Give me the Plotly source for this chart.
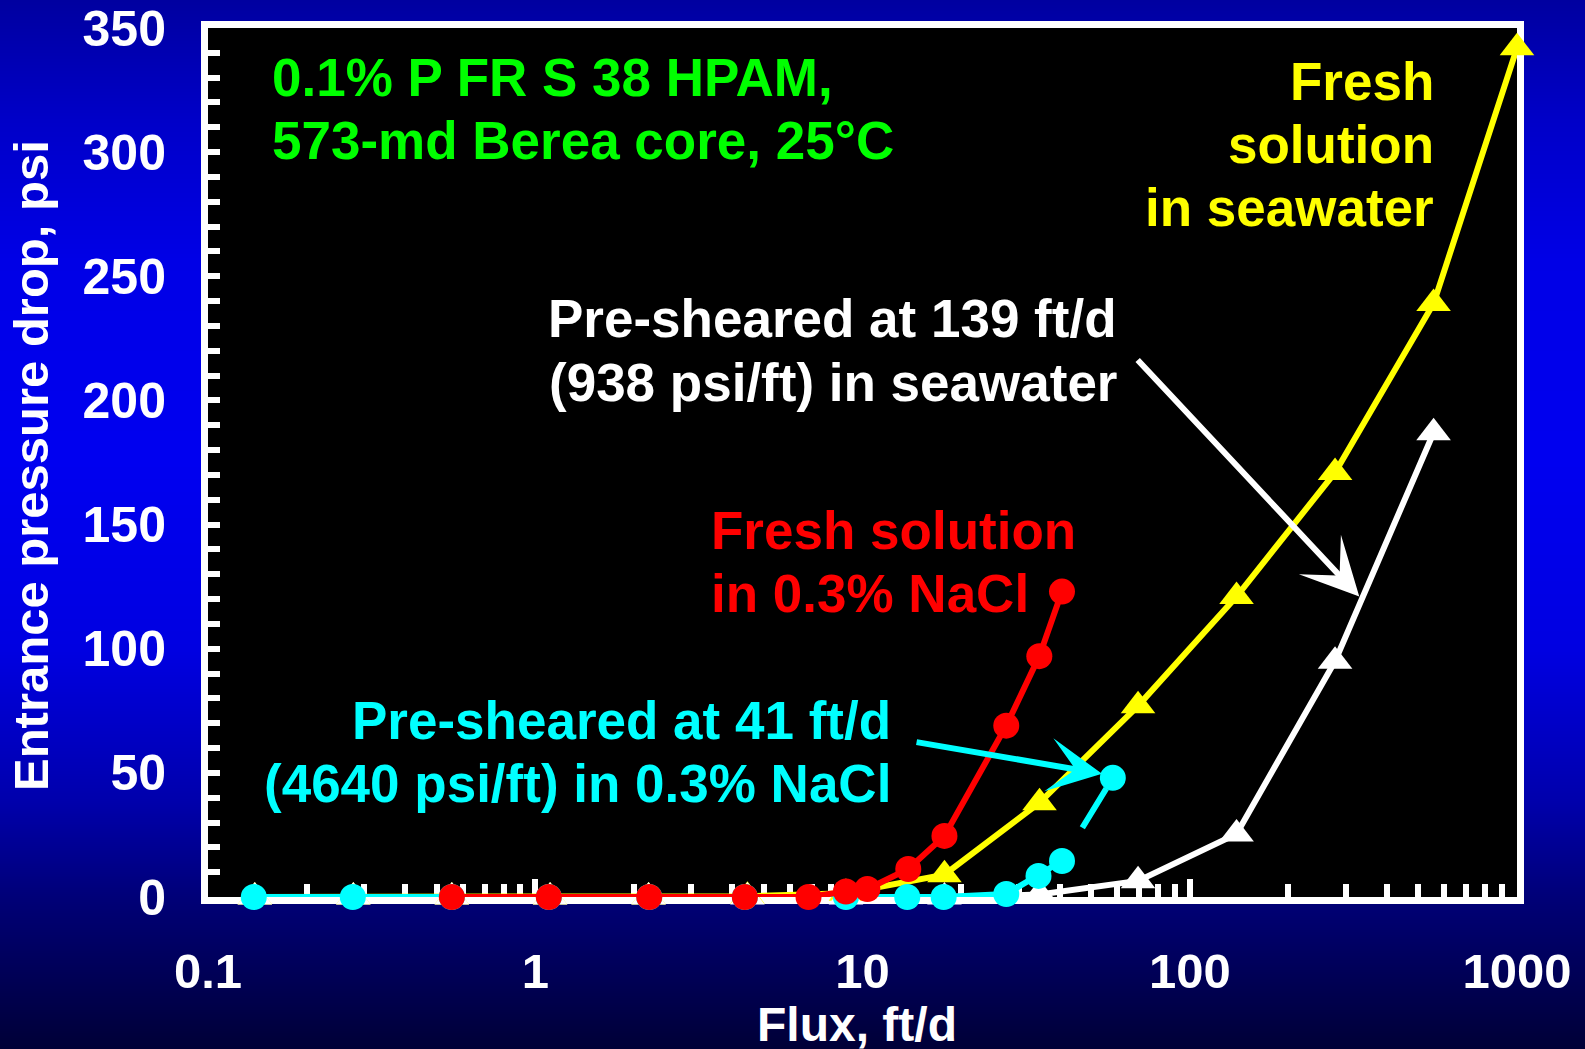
import base64
import struct
import zlib

import plotly.graph_objects as go

# ---------------------------------------------------------------- data
# Fresh solution in seawater (triangles, yellow)
fresh_sea_flux = [0.139, 0.278, 0.556, 1.11, 2.22, 4.45, 8.9, 17.8, 34.75, 69.5, 139, 278, 556, 1000]
fresh_sea_dp = [0, 0, 0, 0, 0, 0.3, 1.5, 9, 38, 77, 121, 171, 239, 342]

# Pre-sheared at 139 ft/d in seawater (triangles, white)
sheared_sea_flux = [0.139, 0.278, 0.556, 1.11, 2.22, 4.45, 8.9, 17.8, 34.75, 69.5, 139, 278, 556]
sheared_sea_dp = [0, 0, 0, 0, 0, 0, 0, 0, 1.0, 6.5, 25.4, 95, 187]

# Fresh solution in 0.3% NaCl (circles, red)
fresh_nacl_flux = [0.556, 1.1, 2.23, 4.37, 6.84, 8.9, 10.35, 13.8, 17.8, 27.5, 34.7, 40.7]
fresh_nacl_dp = [0, 0, 0, 0, 0, 2.2, 3.2, 11.3, 24.6, 69, 97, 123]

# Pre-sheared at 41 ft/d in 0.3% NaCl (circles, cyan)
sheared_nacl_flux = [0.138, 0.277, 0.556, 1.1, 2.23, 4.37, 8.9, 13.7, 17.7, 27.5, 34.5, 40.7, 58.2]
sheared_nacl_dp = [0, 0, 0, 0, 0, 0, 0, 0, 0, 1.2, 8.5, 14.5, 48]

x_tick_vals = [0.1, 1, 10, 100, 1000]
x_tick_text = ["0.1", "1", "10", "100", "1000"]
y_tick_vals = [0, 50, 100, 150, 200, 250, 300, 350]

# ---------------------------------------------------------------- geometry
FIG_W, FIG_H = 1585, 1049
M_L, M_R, M_T, M_B = 208, 68, 28, 152
PW = FIG_W - M_L - M_R
PH = FIG_H - M_T - M_B


def px_x(p):
    return (p - M_L) / PW


def px_y(p):
    return (M_T + PH - p) / PH


FONT = "Liberation Sans, Arial, sans-serif"


# ---------------------------------------------------------------- background gradient
def gradient_png(stops, height, width=2):
    rows = []
    for y in range(height):
        for i in range(len(stops) - 1):
            y0, c0 = stops[i]
            y1, c1 = stops[i + 1]
            if y0 <= y <= y1:
                t = (y - y0) / (y1 - y0) if y1 > y0 else 0
                c = [round(a + (b - a) * t) for a, b in zip(c0, c1)]
                break
        rows.append(b"\x00" + bytes(c) * width)
    raw = b"".join(rows)

    def chunk(tag, data):
        return (struct.pack(">I", len(data)) + tag + data
                + struct.pack(">I", zlib.crc32(tag + data) & 0xFFFFFFFF))

    png = (b"\x89PNG\r\n\x1a\n"
           + chunk(b"IHDR", struct.pack(">IIBBBBB", width, height, 8, 2, 0, 0, 0))
           + chunk(b"IDAT", zlib.compress(raw, 9))
           + chunk(b"IEND", b""))
    return "data:image/png;base64," + base64.b64encode(png).decode()


bg_stops = [
    (0, (0, 0, 160)),
    (120, (0, 0, 200)),
    (260, (0, 0, 230)),
    (460, (0, 0, 240)),
    (650, (0, 0, 225)),
    (800, (0, 0, 172)),
    (900, (0, 0, 118)),
    (1048, (0, 0, 55)),
]

fig = go.Figure()

# ---------------------------------------------------------------- series
fig.add_trace(go.Scatter(
    x=fresh_sea_flux, y=fresh_sea_dp, mode="lines+markers",
    line=dict(color="#ffff00", width=6),
    marker=dict(symbol="triangle-up", size=30, color="#ffff00"),
    cliponaxis=False, showlegend=False))

fig.add_trace(go.Scatter(
    x=sheared_sea_flux, y=sheared_sea_dp, mode="lines+markers",
    line=dict(color="#ffffff", width=6),
    marker=dict(symbol="triangle-up", size=30, color="#ffffff"),
    cliponaxis=False, showlegend=False))

# cyan: solid line up to the last-but-one point, broken segment to the last point
fig.add_trace(go.Scatter(
    x=sheared_nacl_flux[:-1], y=sheared_nacl_dp[:-1], mode="lines",
    line=dict(color="#00ffff", width=6),
    cliponaxis=False, showlegend=False))
fig.add_trace(go.Scatter(
    x=sheared_nacl_flux[-2:], y=sheared_nacl_dp[-2:], mode="lines",
    line=dict(color="#00ffff", width=6, dash="0px,39px,46px,200px"),
    cliponaxis=False, showlegend=False))
fig.add_trace(go.Scatter(
    x=sheared_nacl_flux, y=sheared_nacl_dp, mode="markers",
    marker=dict(symbol="circle", size=26, color="#00ffff"),
    cliponaxis=False, showlegend=False))

fig.add_trace(go.Scatter(
    x=fresh_nacl_flux, y=fresh_nacl_dp, mode="lines+markers",
    line=dict(color="#ff0000", width=6),
    marker=dict(symbol="circle", size=26, color="#ff0000"),
    cliponaxis=False, showlegend=False))

# ---------------------------------------------------------------- text labels
annotations = []


def add_lines(lines, anchor_x, first_y, step, color, align):
    for i, line in enumerate(lines):
        annotations.append(dict(
            text=line, xref="paper", yref="paper",
            x=px_x(anchor_x), y=px_y(first_y + i * step),
            xanchor=align, yanchor="middle", showarrow=False,
            font=dict(family=FONT, size=53, color=color, weight="bold")))


add_lines(["0.1% P FR S 38 HPAM,", "573-md Berea core, 25°C"], 270, 77, 63, "#00ff00", "left")
add_lines(["Fresh", "solution", "in seawater"], 1436, 81, 63.5, "#ffff00", "right")
add_lines(["Pre-sheared at 139 ft/d", "(938 psi/ft) in seawater"], 1119, 318, 64, "#ffffff", "right")
add_lines(["Fresh solution", "in 0.3% NaCl"], 709, 530, 63, "#ff0000", "left")
add_lines(["Pre-sheared at 41 ft/d", "(4640 psi/ft) in 0.3% NaCl"], 893, 720, 63, "#00ffff", "right")

# arrows pointing from the labels to their curves
annotations.append(dict(
    x=2.518, y=121, xref="x", yref="y", text="", showarrow=True,
    ax=-223, ay=-238, arrowhead=3, arrowsize=1.6, arrowwidth=6, arrowcolor="#ffffff"))
annotations.append(dict(
    x=1.732, y=49.6, xref="x", yref="y", text="", showarrow=True,
    ax=-187, ay=-32, arrowhead=3, arrowsize=1.5, arrowwidth=6, arrowcolor="#00ffff"))

# axis titles
annotations.append(dict(
    text="Flux, ft/d", xref="paper", yref="paper", x=px_x(857), y=px_y(1024),
    xanchor="center", yanchor="middle", showarrow=False,
    font=dict(family=FONT, size=48, color="#ffffff", weight="bold")))
annotations.append(dict(
    text="Entrance pressure drop, psi", xref="paper", yref="paper",
    x=px_x(31), y=px_y(466), textangle=-90,
    xanchor="center", yanchor="middle", showarrow=False,
    font=dict(family=FONT, size=49, color="#ffffff", weight="bold")))

minor_x = [m * 10 ** e for e in range(-1, 3) for m in range(2, 10)]

fig.update_layout(
    width=FIG_W, height=FIG_H,
    margin=dict(l=M_L, r=M_R, t=M_T, b=M_B, pad=0, autoexpand=False),
    paper_bgcolor="#0000c0", plot_bgcolor="#000000",
    font=dict(family=FONT, color="#ffffff", weight="bold"),
    annotations=annotations,
    images=[dict(
        source=gradient_png(bg_stops, FIG_H), xref="paper", yref="paper",
        x=-M_L / PW, y=1 + M_T / PH, sizex=FIG_W / PW, sizey=FIG_H / PH,
        xanchor="left", yanchor="top", sizing="stretch", layer="below")],
    shapes=[dict(
        type="rect", xref="paper", yref="paper", x0=0, x1=1, y0=0, y1=1,
        fillcolor="#000000", line=dict(width=0), layer="below")],
    xaxis=dict(
        type="log", range=[-1, 3], showgrid=False, zeroline=False, automargin=False,
        tickmode="array", tickvals=x_tick_vals, ticktext=x_tick_text,
        ticks="inside", ticklen=18, tickwidth=6, tickcolor="#ffffff",
        minor=dict(tickmode="array", tickvals=minor_x, ticks="inside",
                   ticklen=13, tickwidth=6, tickcolor="#ffffff", showgrid=False),
        showline=True, linecolor="#ffffff", linewidth=7, mirror=True,
        tickfont=dict(family=FONT, size=49, color="#ffffff", weight="bold"),
        ticklabelstandoff=25, layer="below traces"),
    yaxis=dict(
        range=[0, 350], showgrid=False, zeroline=False, automargin=False,
        tickmode="array", tickvals=y_tick_vals,
        ticks="inside", ticklen=12, tickwidth=6, tickcolor="#ffffff",
        minor=dict(dtick=10, ticks="inside", ticklen=12, tickwidth=6,
                   tickcolor="#ffffff", showgrid=False),
        showline=True, linecolor="#ffffff", linewidth=7, mirror=True,
        tickfont=dict(family=FONT, size=50, color="#ffffff", weight="bold"),
        ticklabelstandoff=25, layer="below traces"),
)

fig.write_html("out.html")
